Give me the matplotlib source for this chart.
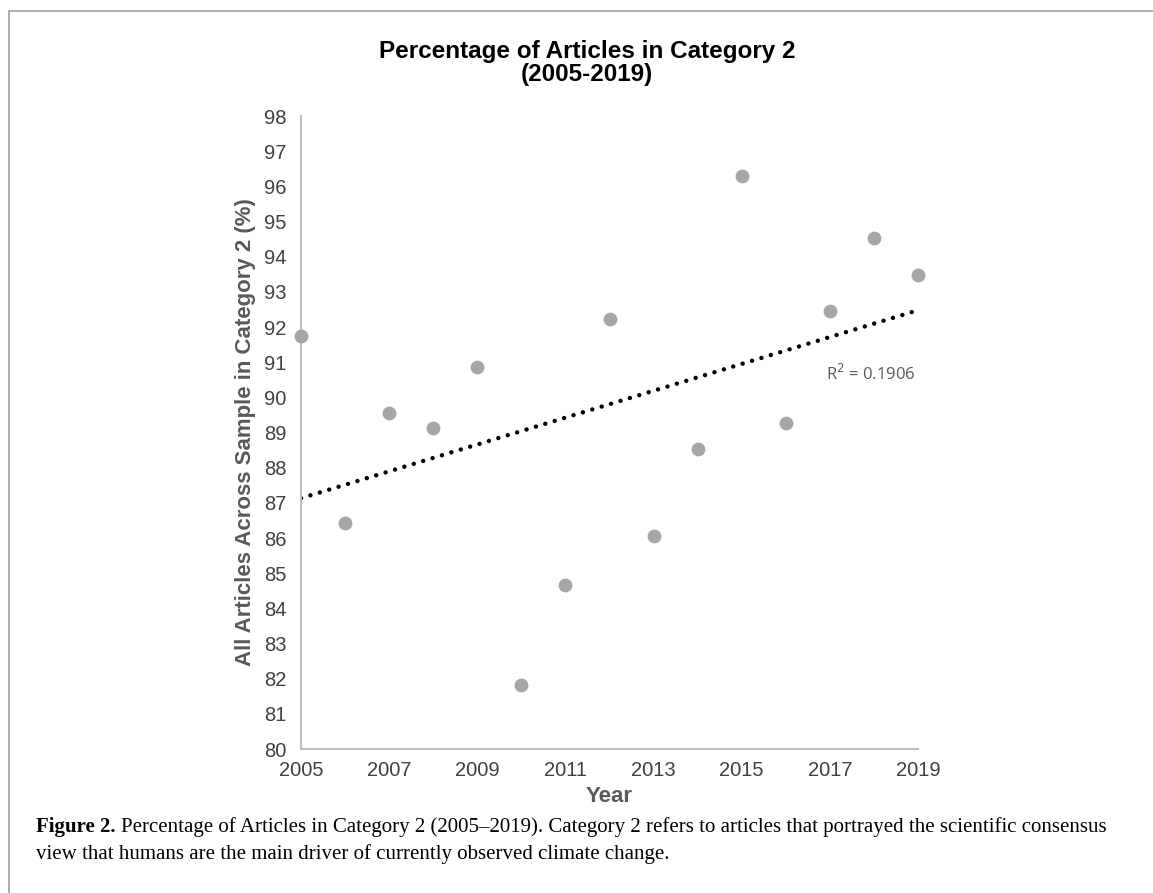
import numpy as np
import matplotlib.pyplot as plt
from matplotlib.patches import Rectangle

years = [2005, 2006, 2007, 2008, 2009, 2010, 2011, 2012, 2013, 2014, 2015, 2016, 2017, 2018, 2019]
pct_cat2 = [91.75, 86.44, 89.55, 89.13, 90.85, 81.83, 84.66, 92.22, 86.06, 88.54, 96.30, 89.28, 92.46, 94.52, 93.48]
x_ticks = [2005, 2007, 2009, 2011, 2013, 2015, 2017, 2019]
y_ticks = list(range(80, 99))
r2_text = "R$^2$ = 0.1906"


def main():
    fig = plt.figure(figsize=(11.53, 8.93), dpi=100)

    # cornice grigia attorno alla figura
    fig.patches.append(Rectangle((9 / 1153, -0.05), 1.2, 1 - 11 / 893 + 0.05,
                                 transform=fig.transFigure, fill=False,
                                 edgecolor='#a0a0a0', linewidth=1.2))

    ax = fig.add_axes([301 / 1153, 1 - 749 / 893, 617 / 1153, 633 / 893])

    ax.scatter(years, pct_cat2, s=80, color='#a6a6a6', zorder=3, clip_on=False)

    # retta di regressione
    coef = np.polyfit(years, pct_cat2, 1)
    xs = np.array([years[0], years[-1]])
    ax.plot(xs, np.polyval(coef, xs), color='black', linewidth=3.2,
            linestyle=(0, (0.01, 2.2)), dash_capstyle='round', zorder=2)
    ax.text(2018.95, 90.66, r2_text, fontsize=12, color='#595959',
            family='Open Sans', ha='right', va='center')

    ax.set_xlim(2005, 2019)
    ax.set_ylim(80, 98)
    ax.set_xticks(x_ticks)
    ax.set_yticks(y_ticks)
    ax.tick_params(axis='y', length=0, labelsize=14.5, labelcolor='#404040', pad=10.5)
    ax.tick_params(axis='x', length=0, labelsize=14.5, labelcolor='#404040', pad=9)
    for lab in ax.get_xticklabels() + ax.get_yticklabels():
        lab.set_family('Liberation Sans')
    for s in ['top', 'right']:
        ax.spines[s].set_visible(False)
    for s in ['left', 'bottom']:
        ax.spines[s].set_color('#bfbfbf')
        ax.spines[s].set_linewidth(1.5)

    ax.set_xlabel("Year", fontsize=16, fontweight='bold', color='#595959',
                  family='Liberation Sans', labelpad=4)
    ax.set_ylabel("All Articles Across Sample in Category 2 (%)", fontsize=16,
                  fontweight='bold', color='#595959', family='Liberation Sans', labelpad=6)

    fig.text(587 / 1153, 1 - 63 / 893, "Percentage of Articles in Category 2\n(2005-2019)",
             ha='center', va='center', fontsize=17.5, fontweight='bold',
             family='Liberation Sans', linespacing=1.0)

    # didascalia
    cap1 = "Percentage of Articles in Category 2 (2005\u20132019). Category 2 refers to articles that portrayed the scientific consensus"
    cap2 = "view that humans are the main driver of currently observed climate change."
    t = fig.text(36 / 1153, 1 - 827 / 893, "Figure 2. ", fontsize=15, fontweight='bold',
                 family='Liberation Serif', va='center', ha='left')
    fig.canvas.draw()
    bb = t.get_window_extent()
    fig.text(bb.x1 / fig.bbox.width, 1 - 827 / 893, cap1,
             fontsize=15, family='Liberation Serif', va='center', ha='left')
    fig.text(36 / 1153, 1 - 854 / 893, cap2,
             fontsize=15, family='Liberation Serif', va='center', ha='left')

    fig.savefig('out.png', dpi=100)


if __name__ == "__main__":
    main()
